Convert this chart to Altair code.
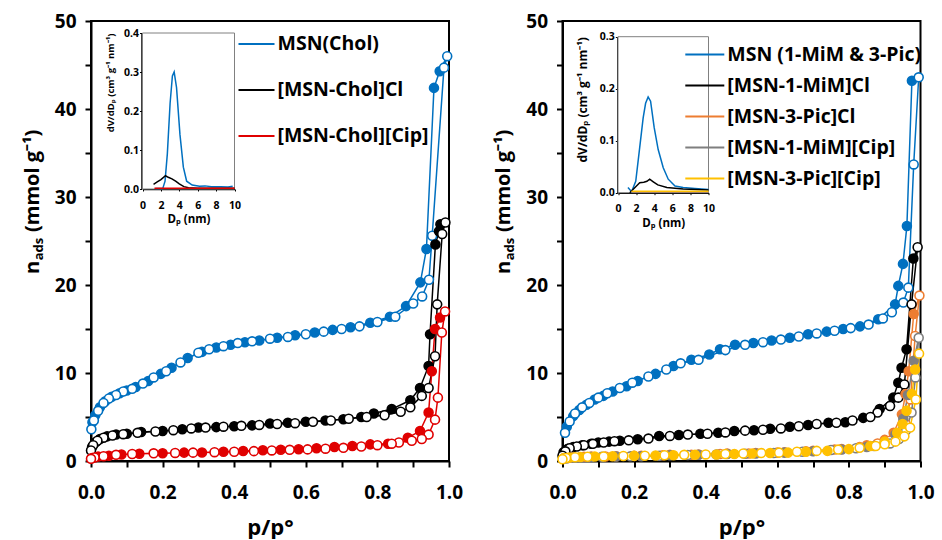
import altair as alt
import pandas as pd

# ---------------- series names / colours ----------------
L_NAMES = ["MSN(Chol)", "[MSN-Chol]Cl", "[MSN-Chol][Cip]"]
L_COLORS = ["#0070C0", "#000000", "#E00000"]
R_NAMES = ["MSN (1-MiM & 3-Pic)", "[MSN-1-MiM]Cl", "[MSN-3-Pic]Cl",
           "[MSN-1-MiM][Cip]", "[MSN-3-Pic][Cip]"]
R_COLORS = ["#0070C0", "#000000", "#ED7D31", "#7F7F7F", "#FFC000"]

X_TICKS = [0.0, 0.1, 0.2, 0.3, 0.4, 0.5, 0.6, 0.7, 0.8, 0.9, 1.0]
Y_TICKS = [0, 5, 10, 15, 20, 25, 30, 35, 40, 45, 50]
INSET_X_TICKS = [0, 2, 4, 6, 8, 10]
INSET_L_Y_TICKS = [0.0, 0.1, 0.2, 0.3, 0.4]
INSET_R_Y_TICKS = [0.0, 0.1, 0.2, 0.3]

# ---------------- left panel isotherms (p/p0, n_ads) ----------------
msn_chol_ads = [(0.004, 4.4), (0.012, 5.2), (0.025, 6.1), (0.04, 6.8), (0.058, 7.3), (0.08, 7.7),
                (0.1, 8.0), (0.125, 8.4), (0.16, 9.1), (0.195, 9.9), (0.225, 10.6), (0.27, 11.7),
                (0.31, 12.4), (0.35, 12.9), (0.39, 13.2), (0.43, 13.5), (0.47, 13.7), (0.52, 14.0),
                (0.57, 14.3), (0.625, 14.6), (0.675, 14.9), (0.725, 15.2), (0.78, 15.7), (0.835, 16.4),
                (0.88, 17.6), (0.92, 20.3), (0.937, 24.1), (0.958, 42.4), (0.974, 44.3)]
msn_chol_des = [(0.995, 46.0), (0.986, 44.7), (0.953, 25.6), (0.944, 20.6), (0.925, 18.7), (0.9, 17.9),
                (0.85, 16.4), (0.8, 15.8), (0.75, 15.3), (0.7, 15.0), (0.65, 14.7), (0.6, 14.4),
                (0.55, 14.1), (0.5, 13.9), (0.45, 13.6), (0.41, 13.4), (0.37, 13.05), (0.33, 12.7),
                (0.3, 12.3), (0.25, 11.2), (0.21, 10.2), (0.175, 9.5), (0.145, 8.8), (0.115, 8.2),
                (0.09, 7.9), (0.07, 7.5), (0.05, 7.1), (0.035, 6.6), (0.02, 5.7), (0.008, 4.6), (0.001, 3.6)]

chol_cl_ads = [(0.003, 1.6), (0.012, 2.1), (0.025, 2.5), (0.045, 2.8), (0.07, 3.0), (0.1, 3.1),
               (0.14, 3.3), (0.2, 3.4), (0.255, 3.6), (0.3, 3.8), (0.35, 3.85), (0.4, 3.95),
               (0.45, 4.05), (0.5, 4.25), (0.55, 4.35), (0.6, 4.45), (0.655, 4.6), (0.705, 4.75),
               (0.755, 5.0), (0.79, 5.4), (0.84, 5.9), (0.892, 6.9), (0.919, 8.3), (0.943, 10.8),
               (0.947, 14.4), (0.962, 24.6), (0.972, 26.1), (0.976, 26.9)]
chol_cl_des = [(0.99, 27.1), (0.981, 25.8), (0.967, 17.8), (0.961, 11.9), (0.943, 8.3), (0.924, 7.4),
               (0.892, 6.1), (0.865, 5.6), (0.82, 5.2), (0.77, 5.0), (0.72, 4.8), (0.67, 4.6),
               (0.62, 4.45), (0.57, 4.3), (0.52, 4.2), (0.47, 4.1), (0.42, 4.0), (0.37, 3.9),
               (0.32, 3.8), (0.28, 3.7), (0.23, 3.5), (0.18, 3.35), (0.13, 3.2), (0.09, 3.05),
               (0.06, 2.9), (0.035, 2.65), (0.018, 2.3), (0.006, 1.8), (0.0, 1.2)]

chol_cip_ads = [(0.003, 0.35), (0.02, 0.5), (0.05, 0.6), (0.085, 0.75), (0.135, 0.83), (0.2, 0.87),
                (0.26, 0.95), (0.31, 0.97), (0.37, 1.05), (0.425, 1.14), (0.48, 1.21), (0.53, 1.29),
                (0.58, 1.33), (0.63, 1.44), (0.68, 1.59), (0.73, 1.7), (0.78, 1.89), (0.83, 1.97),
                (0.885, 2.65), (0.919, 3.4), (0.943, 5.5), (0.952, 10.2), (0.961, 15.0), (0.975, 16.3)]
chol_cip_des = [(0.989, 17.0), (0.98, 14.6), (0.969, 7.2), (0.961, 4.7), (0.943, 3.0), (0.924, 2.5),
                (0.896, 2.3), (0.86, 2.1), (0.84, 1.97), (0.8, 1.8), (0.755, 1.65), (0.705, 1.5),
                (0.655, 1.4), (0.605, 1.32), (0.555, 1.27), (0.505, 1.2), (0.455, 1.12), (0.4, 1.05),
                (0.345, 1.0), (0.285, 0.95), (0.235, 0.92), (0.175, 0.87), (0.115, 0.8), (0.07, 0.7),
                (0.035, 0.55), (0.01, 0.4), (0.0, 0.25)]

# ---------------- right panel isotherms ----------------
msn_r_ads = [(0.012, 3.9), (0.03, 5.1), (0.047, 5.8), (0.067, 6.4), (0.09, 7.0), (0.114, 7.4),
             (0.14, 7.9), (0.179, 8.5), (0.21, 9.1), (0.26, 9.9), (0.31, 10.8), (0.36, 11.5),
             (0.41, 12.1), (0.44, 12.7), (0.482, 13.2), (0.533, 13.4), (0.584, 13.7), (0.635, 14.0),
             (0.686, 14.4), (0.738, 14.7), (0.784, 15.0), (0.831, 15.3), (0.882, 16.1), (0.929, 17.8),
             (0.938, 19.9), (0.951, 22.4), (0.962, 26.7), (0.976, 43.2)]
msn_r_des = [(0.995, 43.6), (0.981, 33.7), (0.966, 19.7), (0.952, 18.0), (0.92, 16.9), (0.895, 16.2),
             (0.855, 15.5), (0.805, 15.1), (0.76, 14.8), (0.71, 14.5), (0.66, 14.15), (0.61, 13.8),
             (0.56, 13.5), (0.51, 13.2), (0.455, 12.6), (0.38, 11.5), (0.33, 11.1), (0.29, 10.4),
             (0.24, 9.6), (0.195, 8.9), (0.16, 8.3), (0.125, 7.7), (0.1, 7.2), (0.075, 6.6),
             (0.055, 6.1), (0.035, 5.4), (0.02, 4.5), (0.007, 3.2)]

mim_cl_ads = [(0.003, 1.0), (0.015, 1.4), (0.03, 1.6), (0.055, 1.8), (0.08, 1.95), (0.1, 2.1),
              (0.13, 2.2), (0.16, 2.3), (0.21, 2.46), (0.27, 2.84), (0.325, 2.95), (0.385, 3.1),
              (0.435, 3.2), (0.48, 3.4), (0.535, 3.5), (0.58, 3.67), (0.635, 3.9), (0.686, 4.1),
              (0.743, 4.35), (0.79, 4.4), (0.84, 4.9), (0.886, 5.9), (0.924, 7.2), (0.938, 8.9),
              (0.947, 10.6), (0.961, 12.7), (0.98, 23.0)]
mim_cl_des = [(0.992, 24.3), (0.975, 17.8), (0.955, 8.7), (0.938, 7.2), (0.915, 6.25), (0.88, 5.5),
              (0.86, 5.0), (0.81, 4.6), (0.765, 4.35), (0.71, 4.2), (0.66, 3.95), (0.61, 3.7),
              (0.56, 3.55), (0.51, 3.45), (0.455, 3.25), (0.405, 3.1), (0.35, 3.0), (0.3, 2.85),
              (0.24, 2.55), (0.185, 2.35), (0.145, 2.25), (0.115, 2.1), (0.085, 1.95), (0.06, 1.8),
              (0.04, 1.65), (0.02, 1.45), (0.008, 1.1), (0.0, 0.6)]

pic_cl_ads = [(0.003, 0.3), (0.03, 0.45), (0.08, 0.5), (0.15, 0.55), (0.22, 0.6), (0.3, 0.7),
              (0.38, 0.75), (0.46, 0.85), (0.54, 0.9), (0.62, 1.0), (0.7, 1.15), (0.78, 1.35),
              (0.85, 1.8), (0.9, 2.4), (0.925, 3.2), (0.948, 5.3), (0.958, 7.6), (0.967, 10.2),
              (0.981, 16.7)]
pic_cl_des = [(0.997, 18.8), (0.985, 14.2), (0.972, 7.0), (0.958, 4.2), (0.94, 3.0), (0.915, 2.3),
              (0.88, 2.0), (0.83, 1.6), (0.76, 1.3), (0.68, 1.1), (0.6, 0.95), (0.52, 0.85),
              (0.44, 0.8), (0.36, 0.72), (0.28, 0.65), (0.2, 0.58), (0.12, 0.52), (0.06, 0.48),
              (0.015, 0.35)]

mim_cip_ads = [(0.003, 0.25), (0.03, 0.4), (0.08, 0.45), (0.15, 0.5), (0.22, 0.55), (0.3, 0.65),
               (0.38, 0.7), (0.46, 0.8), (0.54, 0.85), (0.62, 0.95), (0.7, 1.1), (0.78, 1.3),
               (0.85, 1.6), (0.9, 2.1), (0.93, 3.0), (0.952, 4.8), (0.965, 7.5), (0.981, 11.4)]
mim_cip_des = [(0.995, 14.0), (0.986, 9.5), (0.975, 5.5), (0.96, 3.5), (0.94, 2.5), (0.915, 2.0),
               (0.87, 1.7), (0.82, 1.45), (0.75, 1.25), (0.67, 1.05), (0.59, 0.9), (0.51, 0.82),
               (0.43, 0.75), (0.35, 0.68), (0.27, 0.6), (0.19, 0.53), (0.11, 0.47), (0.05, 0.42),
               (0.012, 0.3)]

pic_cip_ads = [(0.003, 0.3), (0.02, 0.4), (0.05, 0.45), (0.09, 0.5), (0.14, 0.55), (0.2, 0.58),
               (0.26, 0.62), (0.31, 0.65), (0.37, 0.7), (0.43, 0.75), (0.48, 0.8), (0.53, 0.85),
               (0.58, 0.9), (0.63, 0.95), (0.68, 1.05), (0.74, 1.15), (0.8, 1.35), (0.86, 1.7),
               (0.9, 2.2), (0.935, 3.2), (0.95, 4.2), (0.961, 5.7), (0.976, 7.6), (0.985, 10.4)]
pic_cip_des = [(0.996, 12.2), (0.987, 7.0), (0.971, 3.8), (0.955, 2.8), (0.93, 2.2), (0.9, 1.9),
               (0.875, 1.7), (0.83, 1.5), (0.77, 1.3), (0.71, 1.15), (0.655, 1.05), (0.605, 0.95),
               (0.555, 0.9), (0.505, 0.85), (0.455, 0.8), (0.4, 0.75), (0.34, 0.7), (0.285, 0.65),
               (0.23, 0.6), (0.17, 0.57), (0.115, 0.52), (0.07, 0.48), (0.035, 0.43), (0.01, 0.35),
               (0.0, 0.2)]

# ---------------- pore size distributions (Dp nm, dV/dDp) ----------------
psd_l_msn = [(1.4, 0.001), (2.2, 0.001), (2.45, 0.02), (2.7, 0.09), (3.0, 0.22), (3.25, 0.29),
             (3.44, 0.30), (3.7, 0.26), (4.07, 0.14), (4.44, 0.056), (4.8, 0.02), (5.4, 0.01),
             (6.2, 0.007), (6.8, 0.008), (7.5, 0.006), (8.5, 0.006), (9.3, 0.005), (9.8, 0.007)]
psd_l_cl = [(1.2, 0.012), (1.6, 0.018), (2.0, 0.024), (2.5, 0.034), (2.8, 0.030), (3.2, 0.026),
            (3.6, 0.02), (4.0, 0.013), (4.5, 0.006), (5.0, 0.003), (6.0, 0.002), (8.0, 0.002),
            (10.0, 0.002)]
psd_l_cip = [(1.3, 0.002), (3.0, 0.002), (5.0, 0.002), (7.0, 0.002), (10.0, 0.002)]

psd_r_msn = [(1.1, 0.01), (1.5, 0.002), (1.96, 0.022), (2.4, 0.087), (2.78, 0.144), (3.05, 0.172),
             (3.33, 0.184), (3.6, 0.176), (4.0, 0.125), (4.44, 0.083), (5.0, 0.048), (5.55, 0.026),
             (6.3, 0.013), (7.2, 0.01), (8.5, 0.008), (10.0, 0.006)]
psd_r_mim_cl = [(1.3, 0.0), (2.04, 0.013), (2.4, 0.019), (2.85, 0.02), (3.2, 0.022), (3.5, 0.026),
                (3.9, 0.021), (4.4, 0.015), (5.4, 0.01), (7.2, 0.007), (10.0, 0.005)]
psd_r_pic_cl = [(1.5, 0.002), (4.0, 0.002), (7.0, 0.002), (10.0, 0.002)]
psd_r_mim_cip = [(1.5, 0.002), (4.0, 0.002), (7.0, 0.002), (10.0, 0.002)]
psd_r_pic_cip = [(1.5, 0.003), (4.0, 0.003), (7.0, 0.003), (10.0, 0.003)]

FONT = "Open Sans"
W, H = 358, 440


def iso_frame(names, ads_list, des_list):
    rows = []
    for name, ads, des in zip(names, ads_list, des_list):
        seq = [(p, n, "ads") for p, n in ads] + [(p, n, "des") for p, n in des]
        for i, (p, n, b) in enumerate(seq):
            rows.append(dict(series=name, p=p, n=n, branch=b, order=i,
                             fillkey=name if b == "ads" else "open"))
    return pd.DataFrame(rows)


def psd_frame(names, curves):
    rows = []
    for name, cur in zip(names, curves):
        for d, v in cur:
            rows.append(dict(series=name, D=d, V=v))
    return pd.DataFrame(rows)


def panel(names, colors, iso_df, psd_df, psd_ymax, psd_yticks, ix_range, iy_range,
          inset_offx, inset_offy, leg_x, leg_y, row_pad, sym_len, ititle_size, ititle_pad):
    color_scale = alt.Scale(domain=names, range=colors)
    xs = alt.Scale(domain=[0, 1], range=[0, W], nice=False, zero=False, padding=0)
    ys = alt.Scale(domain=[0, 50], range=[H, 0], nice=False, padding=0)
    x_axis = alt.Axis(values=X_TICKS, title="p/p°", labelFlush=False,
                      labelExpr="(round(datum.value*10) % 2 == 0) ? format(datum.value, '.1f') : ''",
                      labelPadding=16, titlePadding=15, titleFontSize=22)
    y_axis = alt.Axis(values=Y_TICKS, title=None, labelFlush=False,
                      labelExpr="(datum.value % 10 == 0) ? datum.label : ''",
                      labelPadding=9)
    X = alt.X("p:Q", scale=xs, axis=x_axis)
    Y = alt.Y("n:Q", scale=ys, axis=y_axis)
    base = alt.Chart(iso_df)
    lines = base.mark_line(strokeWidth=1.5).encode(
        x=X, y=Y,
        color=alt.Color("series:N", scale=color_scale,
                        legend=alt.Legend(orient="none", legendX=leg_x, legendY=leg_y, title=None,
                                          symbolType="stroke", symbolSize=sym_len * sym_len,
                                          symbolStrokeWidth=2, labelFontSize=19.5,
                                          labelFontWeight="bold", labelColor="black",
                                          labelFont=FONT, rowPadding=row_pad, labelOffset=2,
                                          padding=0, labelLimit=400)),
        order="order:Q")
    pts = base.mark_point(shape="circle", filled=True, size=80, strokeWidth=1.6, opacity=1).encode(
        x=X, y=Y,
        stroke=alt.Stroke("series:N", scale=alt.Scale(domain=names, range=colors), legend=None),
        fill=alt.Fill("fillkey:N", scale=alt.Scale(domain=names + ["open"], range=colors + ["white"]),
                      legend=None))

    one = pd.DataFrame({"k": [0]})
    tkw = dict(font=FONT, fontWeight="bold", color="black", angle=270, align="left",
               baseline="alphabetic")
    t_n = alt.Chart(one).mark_text(x=-52.5, y=253, fontSize=20, **tkw).encode(text=alt.value("n"))
    t_ads = alt.Chart(one).mark_text(x=-48.5, y=239.3, fontSize=13, **tkw).encode(text=alt.value("ads"))
    t_unit = alt.Chart(one).mark_text(x=-52.5, y=211, fontSize=20, **tkw).encode(
        text=alt.value("(mmol g⁻¹)"))

    main = alt.layer(lines, pts, t_n, t_ads, t_unit)

    ixs = alt.Scale(domain=[0, 10], range=ix_range, nice=False, zero=False, padding=0)
    iys = alt.Scale(domain=[0, psd_ymax], range=iy_range, nice=False, padding=0)
    ix_axis = alt.Axis(orient="bottom", offset=inset_offy, values=INSET_X_TICKS, title="Dₚ (nm)",
                       labelFlush=False, labelOverlap=False,
                       labelFontSize=10.5, titleFontSize=11.5, labelPadding=9, titlePadding=3,
                       tickSize=2, tickWidth=1, domainWidth=1.5)
    iy_axis = alt.Axis(orient="left", offset=inset_offx, values=psd_yticks, format=".1f",
                       title="dV/dDₚ (cm³ g⁻¹ nm⁻¹)", titleAnchor="end", labelFlush=False,
                       labelFontSize=10.5, titleFontSize=ititle_size, labelPadding=1,
                       titlePadding=ititle_pad, tickSize=2, tickWidth=1, domainWidth=1.5)
    frame_df = pd.DataFrame({"x0": [0], "x1": [10], "y0": [0], "y1": [psd_ymax]})
    frame = alt.Chart(frame_df).mark_rect(fill="white", stroke="#808080", strokeWidth=1).encode(
        x=alt.X("x0:Q", scale=ixs, axis=ix_axis), x2="x1:Q",
        y=alt.Y("y0:Q", scale=iys, axis=iy_axis), y2="y1:Q")
    ilines = alt.Chart(psd_df).mark_line(strokeWidth=1.5).encode(
        x=alt.X("D:Q", scale=ixs, axis=ix_axis),
        y=alt.Y("V:Q", scale=iys, axis=iy_axis),
        color=alt.Color("series:N", scale=color_scale, legend=None))
    inset = alt.layer(frame, ilines)

    return alt.layer(main, inset).resolve_scale(x="independent", y="independent").properties(
        width=W, height=H)


left_iso = iso_frame(L_NAMES, [msn_chol_ads, chol_cl_ads, chol_cip_ads],
                     [msn_chol_des, chol_cl_des, chol_cip_des])
right_iso = iso_frame(R_NAMES, [msn_r_ads, mim_cl_ads, pic_cl_ads, mim_cip_ads, pic_cip_ads],
                      [msn_r_des, mim_cl_des, pic_cl_des, mim_cip_des, pic_cip_des])
left_psd = psd_frame(L_NAMES, [psd_l_msn, psd_l_cl, psd_l_cip])
right_psd = psd_frame(R_NAMES, [psd_r_msn, psd_r_mim_cl, psd_r_pic_cl, psd_r_mim_cip, psd_r_pic_cip])

left = panel(L_NAMES, L_COLORS, left_iso, left_psd, 0.4, INSET_L_Y_TICKS,
             [51.5, 143.5], [168, 12], -50.5, -272, 146.5, 4, 17, 36, 9.5, 8)
right = panel(R_NAMES, R_COLORS, right_iso, right_psd, 0.3, INSET_R_Y_TICKS,
              [55.5, 146], [171.7, 15.7], -54.8, -268.3, 121.8, 13, 1, 39, 12, 10)

chart = alt.hconcat(left, right, spacing=113.5, bounds="flush").resolve_scale(
    color="independent", stroke="independent", fill="independent"
).properties(
    padding={"left": 21, "top": 11, "right": 5, "bottom": 0}
).configure(font=FONT).configure_view(
    stroke="black", strokeWidth=2
).configure_axis(
    grid=False, domainColor="black", domainWidth=2, tickColor="black", tickWidth=2, tickSize=6,
    labelFont=FONT, labelFontWeight="bold", labelFontSize=19, labelColor="black",
    titleFont=FONT, titleFontWeight="bold", titleColor="black", labelFlush=False
)

chart.save("out.html", embed_options={"renderer": "svg", "actions": False})
